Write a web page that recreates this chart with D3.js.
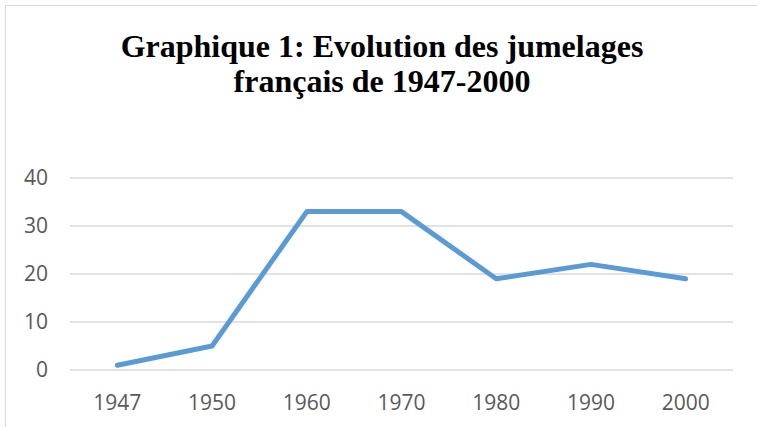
<!DOCTYPE html>
<html lang="fr">
<head>
<meta charset="UTF-8">
<title>Graphique 1</title>
<script src="https://d3js.org/d3.v7.min.js"></script>
<style>
  body { margin: 0; background: #fff; }
</style>
</head>
<body>
<script>
	// data
	var years = ["1947", "1950", "1960", "1970", "1980", "1990", "2000"];
	var jumelages = [1, 5, 33, 33, 19, 22, 19];
	var yTicks = [0, 10, 20, 30, 40];
	var titleLines = ["Graphique 1: Evolution des jumelages", "français de 1947-2000"];

	var width = 757, height = 427;
	var plot = {left: 70, right: 733, top: 178, bottom: 370};

	var svg = d3.select("body").append("svg")
		.attr("width", width)
		.attr("height", height);

	svg.append("rect").attr("width", width).attr("height", height).attr("fill", "#fff");
	// chart border (runs off the right/bottom edge)
	svg.append("rect")
		.attr("x", 5.5).attr("y", 5.5)
		.attr("width", 800).attr("height", 500)
		.attr("fill", "none").attr("stroke", "#d9d9d9").attr("stroke-width", 1);

	// title
	svg.append("text")
		.attr("x", 382).attr("y", 57)
		.attr("text-anchor", "middle")
		.attr("font-family", "'Liberation Serif', 'Times New Roman', serif")
		.attr("font-weight", "bold")
		.attr("font-size", 32)
		.attr("fill", "#000")
		.selectAll("tspan").data(titleLines).enter().append("tspan")
		.attr("x", 382)
		.attr("dy", function(d, i){ return i == 0 ? 0 : 35; })
		.text(function(d){ return d; });

	var x = d3.scaleBand().domain(years).range([plot.left, plot.right]);
	var y = d3.scaleLinear().domain([0, 40]).range([plot.bottom, plot.top]);

	// gridlines
	svg.append("g").selectAll("line").data(yTicks).enter().append("line")
		.attr("x1", plot.left).attr("x2", plot.right)
		.attr("y1", function(d){ return y(d); })
		.attr("y2", function(d){ return y(d); })
		.attr("stroke", "#d9d9d9").attr("stroke-width", 1.3);

	// y axis labels
	var yAxis = svg.append("g")
		.attr("transform", "translate(" + (plot.left - 22) + ",0)")
		.call(d3.axisLeft(y).tickValues(yTicks).tickSize(0).tickPadding(0));
	yAxis.select(".domain").remove();
	yAxis.selectAll("text")
		.attr("font-family", "'Open Sans', sans-serif")
		.attr("font-size", 21)
		.attr("fill", "#595959");

	// x axis labels
	var xAxis = svg.append("g")
		.attr("transform", "translate(0," + plot.bottom + ")")
		.call(d3.axisBottom(x).tickSize(0).tickPadding(25));
	xAxis.select(".domain").remove();
	xAxis.selectAll("text")
		.attr("font-family", "'Open Sans', sans-serif")
		.attr("font-size", 21)
		.attr("fill", "#595959");

	// the series line
	var line = d3.line()
		.x(function(d, i){ return x(years[i]) + x.bandwidth() / 2; })
		.y(function(d){ return y(d); });

	svg.append("path")
		.datum(jumelages)
		.attr("d", line)
		.attr("fill", "none")
		.attr("stroke", "#5b9bd5")
		.attr("stroke-width", 5)
		.attr("stroke-linecap", "round")
		.attr("stroke-linejoin", "round");
</script>
</body>
</html>
